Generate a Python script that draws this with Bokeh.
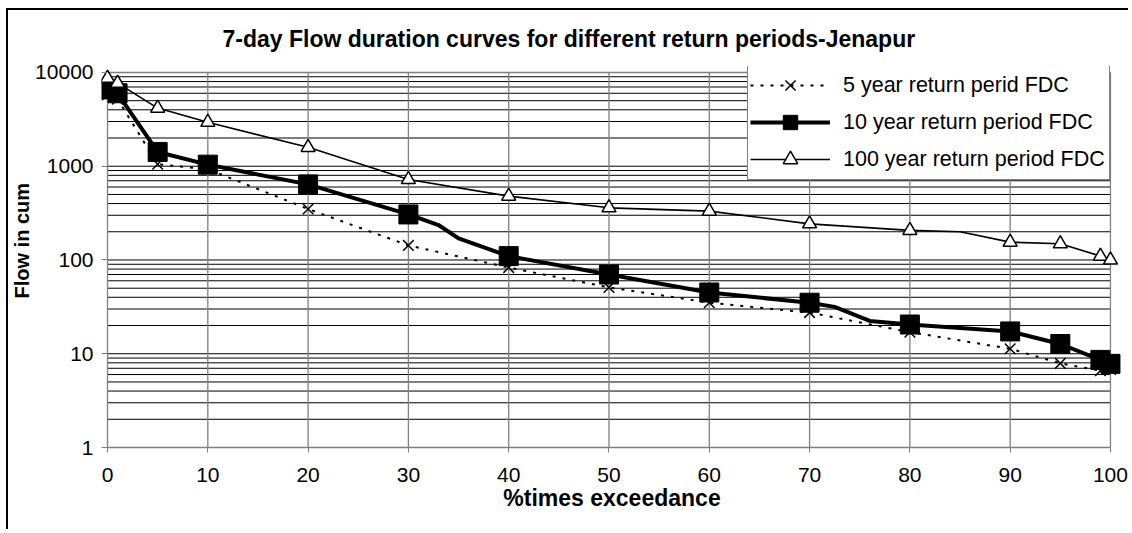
from bokeh.plotting import figure
from bokeh.models import Range1d, FixedTicker, PrintfTickFormatter, Legend, LegendItem, Title
from bokeh.embed import file_html
from bokeh.resources import INLINE

# % of time a flow is equalled or exceeded
pct = [0, 1, 5, 10, 20, 30, 40, 50, 60, 70, 80, 90, 95, 99, 100]

# 7-day flows (cumecs) for each return period
flow_5yr = [5800, 5200, 1050, 930, 350, 143, 83, 51, 35, 27.5, 17, 11.3, 7.9, 6.6, 6.8]
flow_10yr = [6600, 6000, 1420, 1040, 640, 306, 110, 70, 45, 35, 20.5, 17.3, 12.7, 8.6, 7.8]
flow_100yr = [8700, 7700, 4170, 2940, 1590, 722, 480, 360, 332, 243, 207, 155, 149, 110, 100]

# unmarked points along the curves
bend_pct_10yr = [33, 35, 72.5, 76]
bend_flow_10yr = [236, 170, 31.6, 22.4]
bend_pct_100yr = [85]
bend_flow_100yr = [200]

x_ticks = [0, 10, 20, 30, 40, 50, 60, 70, 80, 90, 100]
y_ticks = [1, 10, 100, 1000, 10000]

FONT = "Liberation Sans"
GREY = "#808080"


def with_bends(xs, ys, bx, by):
    pts = sorted(zip(list(xs) + list(bx), list(ys) + list(by)))
    return [a for a, _ in pts], [b for _, b in pts]


# the frame is a little larger than the axis bounds so edge markers are not cut
p = figure(width=1122, height=521,
           x_range=Range1d(-0.6, 101.2), y_range=Range1d(1, 11580),
           y_axis_type="log", output_backend="svg", toolbar_location=None,
           min_border_left=93, min_border_right=8, min_border_top=55, min_border_bottom=84)
p.styles = {"margin-left": "6px", "margin-top": "8px",
            "border-left": "2px solid black", "border-top": "2px solid black"}
p.outline_line_color = None
p.background_fill_color = "white"
p.border_fill_color = "white"

p.title.text = "7-day Flow duration curves for different return periods-Jenapur"
p.title.text_font = FONT
p.title.text_font_size = "23px"
p.title.text_font_style = "bold"
p.title.text_color = "black"
p.title.align = "left"
p.title.offset = 121
p.title.standoff = 28
p.title.vertical_align = "middle"

# grid, drawn only inside the axis bounds
p.xgrid.grid_line_color = None
p.ygrid.grid_line_color = None
minor_vals = [k * d for d in y_ticks[:-1] for k in range(2, 10)]
hgrid = sorted(minor_vals + y_ticks[1:-1])
p.segment(x0=x_ticks[0], x1=x_ticks[-1], y0=hgrid, y1=hgrid, line_color="black", line_width=1)
p.segment(x0=x_ticks[0], x1=x_ticks[-1], y0=y_ticks[-1:], y1=y_ticks[-1:],
          line_color=GREY, line_width=1.5)
p.segment(x0=x_ticks, x1=x_ticks, y0=y_ticks[0], y1=y_ticks[-1], line_color=GREY, line_width=1.3)

# x axis
p.xaxis.ticker = FixedTicker(ticks=x_ticks, minor_ticks=[])
p.xaxis.bounds = (x_ticks[0], x_ticks[-1])
p.xaxis.axis_line_color = GREY
p.xaxis.axis_line_width = 1.5
p.xaxis.major_tick_line_color = GREY
p.xaxis.major_tick_out = 5
p.xaxis.major_tick_in = 0
p.xaxis.major_label_standoff = 15
p.xaxis.major_label_text_font = FONT
p.xaxis.major_label_text_font_size = "21px"
p.xaxis.major_label_text_color = "black"
p.xaxis.axis_label = "%times exceedance"
p.xaxis.axis_label_text_font = FONT
p.xaxis.axis_label_text_font_size = "23px"
p.xaxis.axis_label_text_font_style = "bold"
p.xaxis.axis_label_text_color = "black"
p.xaxis.axis_label_standoff = 0

# y axis (its line is the grid line at 0 %)
p.yaxis.ticker = FixedTicker(ticks=y_ticks, minor_ticks=[])
p.yaxis.formatter = PrintfTickFormatter(format="%d")
p.yaxis.axis_line_color = None
p.yaxis.major_tick_line_color = GREY
p.yaxis.major_tick_in = 6
p.yaxis.major_tick_out = 0
p.yaxis.minor_tick_line_color = None
p.yaxis.major_label_standoff = 8
p.yaxis.major_label_text_font = FONT
p.yaxis.major_label_text_font_size = "21px"
p.yaxis.major_label_text_color = "black"

# y axis title, in its own panel left of the tick labels
p.add_layout(Title(text="Flow in cum", align="left", offset=149, standoff=0,
                   text_font=FONT, text_font_size="20px", text_font_style="bold",
                   text_color="black"), "left")

# curves
x5, y5 = pct, flow_5yr
x10, y10 = with_bends(pct, flow_10yr, bend_pct_10yr, bend_flow_10yr)
x100, y100 = with_bends(pct, flow_100yr, bend_pct_100yr, bend_flow_100yr)

r5_line = p.line(x5, y5, line_color="black", line_width=2, line_dash="3 7")
r5_pts = p.scatter(pct, flow_5yr, marker="x", size=15, line_color="black", line_width=1.5)

r10_line = p.line(x10, y10, line_color="black", line_width=4)
r10_pts = p.scatter(pct, flow_10yr, marker="square", size=19, fill_color="black", line_color="black")

r100_line = p.line(x100, y100, line_color="black", line_width=1.6)
r100_pts = p.scatter(pct, flow_100yr, marker="triangle", size=14, fill_color="white",
                     line_color="black", line_width=1.5)

legend = Legend(items=[
    LegendItem(label="5 year return perid FDC", renderers=[r5_line, r5_pts]),
    LegendItem(label="10 year return period FDC", renderers=[r10_line, r10_pts]),
    LegendItem(label="100 year return period FDC", renderers=[r100_line, r100_pts]),
], location=(646, 267))
legend.label_text_font = FONT
legend.label_text_font_size = "21.5px"
legend.label_text_color = "black"
legend.glyph_width = 80
legend.glyph_height = 36
legend.label_height = 36
legend.label_width = 264
legend.label_standoff = 13
legend.spacing = 1
legend.padding = 2
legend.margin = 0
legend.border_line_color = "black"
legend.border_line_width = 1
legend.background_fill_color = "white"
legend.background_fill_alpha = 1
p.add_layout(legend)

open("out.html", "w").write(file_html(p, INLINE))
